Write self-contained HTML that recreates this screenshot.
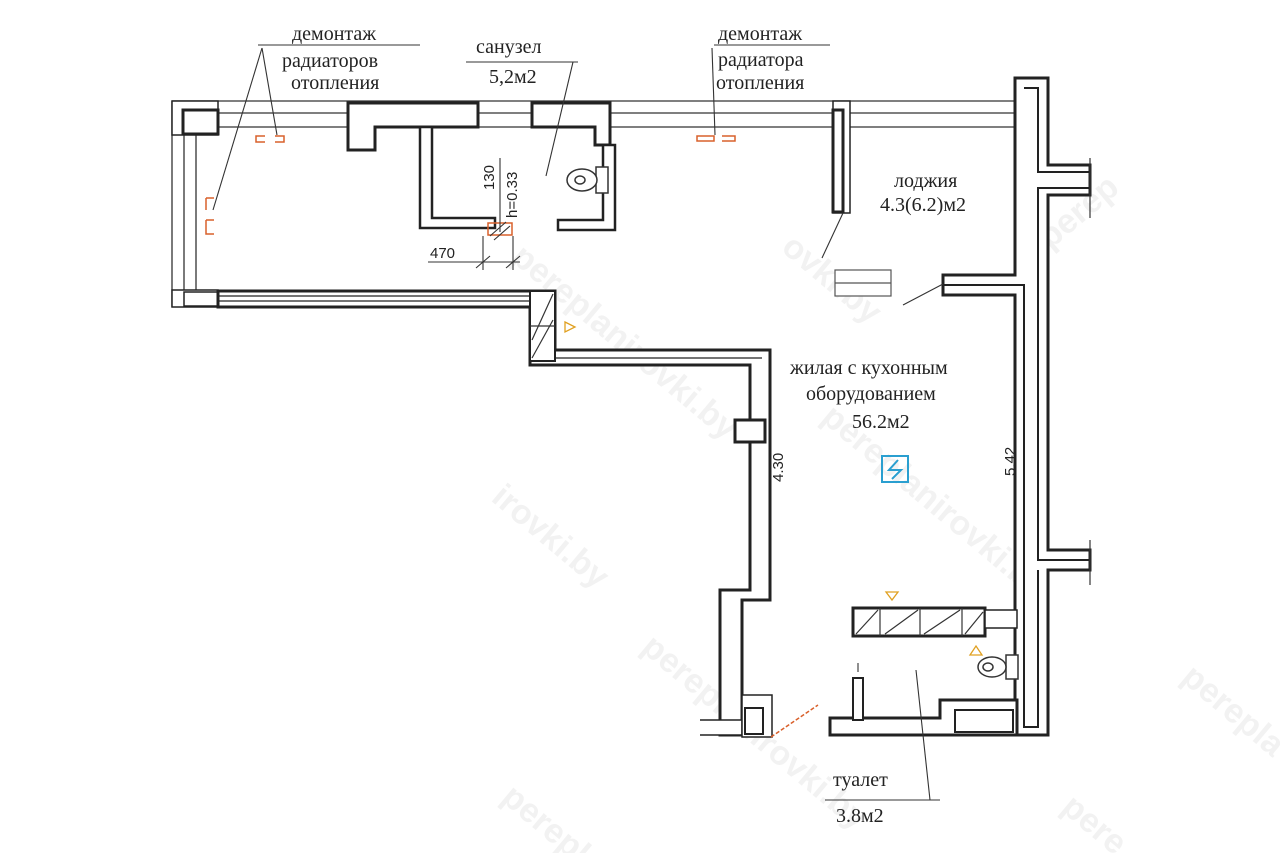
<!DOCTYPE html>
<html><head><meta charset="utf-8"><style>
html,body{margin:0;padding:0;background:#fff;width:1280px;height:853px;overflow:hidden}
svg{display:block;overflow:hidden}
.t{font-family:"Liberation Serif",serif;font-size:20px;fill:#222}
.s{font-family:"Liberation Sans",sans-serif;font-size:15px;fill:#222}
.w{font-family:"Liberation Sans",sans-serif;font-size:34px;font-weight:bold;fill:#f2f2f2}
</style></head><body>
<svg width="1280" height="853" viewBox="0 0 1280 853" xmlns="http://www.w3.org/2000/svg">
<g>
<text class="w" transform="translate(780,250) rotate(40)">ovki.by</text>
<text class="w" transform="translate(820,420) rotate(40)">pereplanirovki.by</text>
<text class="w" transform="translate(1050,250) rotate(-40)">perep</text>
<text class="w" transform="translate(510,260) rotate(40)">pereplanirovki.by</text>
<text class="w" transform="translate(490,500) rotate(40)">irovki.by</text>
<text class="w" transform="translate(640,650) rotate(40)">pereplanirovki.by</text>
<text class="w" transform="translate(500,800) rotate(40)">perepl</text>
<text class="w" transform="translate(1180,680) rotate(40)">perepla</text>
<text class="w" transform="translate(1060,810) rotate(40)">pere</text>
</g>
<g fill="none" stroke="#333" stroke-width="1.3">
<line x1="172" y1="101" x2="1015" y2="101"/>
<line x1="172" y1="113" x2="1015" y2="113"/>
<line x1="172" y1="127" x2="1015" y2="127"/>
<line x1="172" y1="101" x2="172" y2="307"/>
<line x1="184" y1="133" x2="184" y2="292"/>
<line x1="196" y1="133" x2="196" y2="292"/>
</g>
<g fill="#fff" stroke="#222" stroke-width="3">
<rect x="172" y="101" width="46" height="34" stroke-width="1.5"/>
<rect x="183" y="110" width="35" height="24"/>
<rect x="172" y="290" width="46" height="17" stroke-width="1.5"/>
<rect x="184" y="292" width="34" height="14" stroke-width="1.5"/>
<path d="M218 291 H555 V350 H770 V600 H742 V735 H720 V590 H750 V365 H530 V307 H218 Z"/>
<path d="M218 296 H548" stroke-width="1.2"/>
<path d="M218 301 H542 V358 H762" fill="none" stroke-width="1.2"/>
<rect x="530" y="291" width="25" height="70" stroke-width="2"/>
<rect x="735" y="420" width="30" height="22"/>
<path d="M700 720 H742 V735 H700" stroke-width="1.5"/>
<path d="M742 695 H772 V737 H742 Z" stroke-width="1.5"/>
<rect x="745" y="708" width="18" height="26" stroke-width="2"/>
<path d="M348 103 H478 V127 H375 V150 H348 Z"/>
<path d="M532 103 H610 V145 H595 V127 H532 Z"/>
<path d="M420 127 H432 V218 H495 V228 H420 Z" stroke-width="2.5"/>
<path d="M603 145 H615 V230 H558 V220 H603 Z" stroke-width="2.5"/>
<rect x="833" y="101" width="17" height="112" stroke-width="1.5"/>
<rect x="833" y="110" width="10" height="102"/>
<path d="M1015 78 H1048 V165 H1090 V195 H1048 V550 H1090 V570 H1048 V735 H1015 V295 H943 V275 H1015 Z"/>
<path d="M1024 88 H1038 V172 H1090 M1090 188 H1038 V560 H1090 M1038 570 V727 H1024 V285 H943" fill="none" stroke-width="2"/>
<rect x="835" y="270" width="56" height="26" stroke="#555" stroke-width="1.2"/>
<line x1="835" y1="283" x2="891" y2="283" stroke="#555" stroke-width="1.2"/>
<rect x="853" y="608" width="132" height="28"/>
<rect x="985" y="610" width="32" height="18" stroke-width="1.5"/>
<path d="M830 718 H940 V700 H1017 V735 H830 Z"/>
<rect x="955" y="710" width="58" height="22" stroke-width="2"/>
<rect x="853" y="678" width="10" height="42" stroke-width="2"/>
</g>
<g stroke="#333" stroke-width="1.2">
<line x1="1090" y1="158" x2="1090" y2="218"/><line x1="1090" y1="540" x2="1090" y2="585"/>
<line x1="880" y1="608" x2="880" y2="636"/><line x1="920" y1="608" x2="920" y2="636"/><line x1="962" y1="608" x2="962" y2="636"/>
<line x1="856" y1="634" x2="878" y2="610"/><line x1="885" y1="634" x2="918" y2="610"/><line x1="924" y1="634" x2="960" y2="610"/><line x1="965" y1="634" x2="983" y2="612"/>
<line x1="532" y1="340" x2="553" y2="294"/><line x1="532" y1="358" x2="553" y2="320"/><line x1="530" y1="326" x2="555" y2="326"/>
</g>
<g fill="#fff" stroke="#333" stroke-width="1.5">
<rect x="596" y="167" width="12" height="26"/>
<ellipse cx="582" cy="180" rx="15" ry="11"/><ellipse cx="580" cy="180" rx="5" ry="4"/>
<rect x="1006" y="655" width="12" height="24"/>
<ellipse cx="992" cy="667" rx="14" ry="10"/><ellipse cx="988" cy="667" rx="5" ry="4"/>
</g>
<g fill="none" stroke="#d9602b" stroke-width="1.5">
<path d="M265 136 H256 V142 H265 M275 136 H284 V142 H275"/>
<path d="M697 136 H714 V141 H697 Z M722 136 H735 V141 H722"/>
<path d="M206 198 V210 M206 198 H214 M206 220 V234 H214 M206 220 H214"/>
<rect x="488" y="223" width="24" height="12"/>
<line x1="771" y1="737" x2="818" y2="705" stroke-dasharray="4 2"/>
</g>
<g fill="none" stroke="#e0a020" stroke-width="1.3">
<path d="M565 322 L575 327 L565 332 Z"/>
<path d="M886 592 H898 L892 600 Z"/>
<path d="M970 655 H982 L976 646 Z"/>
</g>
<rect x="882" y="456" width="26" height="26" fill="none" stroke="#2a9fd0" stroke-width="2"/>
<path d="M898 460 L889 470 H901 L892 479" fill="none" stroke="#2a9fd0" stroke-width="2"/>
<g stroke="#333" stroke-width="1.1" fill="none">
<line x1="258" y1="45" x2="420" y2="45"/>
<line x1="262" y1="48" x2="213" y2="210"/>
<line x1="262" y1="48" x2="277" y2="135"/>
<line x1="466" y1="62" x2="578" y2="62"/>
<line x1="573" y1="62" x2="546" y2="176"/>
<line x1="714" y1="45" x2="830" y2="45"/>
<line x1="712" y1="48" x2="715" y2="135"/>
<line x1="843" y1="213" x2="822" y2="258"/>
<line x1="943" y1="284" x2="903" y2="305"/>
<line x1="858" y1="663" x2="858" y2="672"/>
<line x1="916" y1="670" x2="930" y2="800"/>
<line x1="825" y1="800" x2="940" y2="800"/>
<line x1="500" y1="158" x2="500" y2="232"/>
<line x1="428" y1="262" x2="520" y2="262"/>
<line x1="483" y1="236" x2="483" y2="270"/><line x1="513" y1="236" x2="513" y2="270"/>
<line x1="476" y1="268" x2="490" y2="256"/><line x1="506" y1="268" x2="520" y2="256"/>
<line x1="490" y1="236" x2="506" y2="222"/><line x1="494" y1="240" x2="510" y2="226"/>
</g>
<text class="t" x="292" y="40">демонтаж</text>
<text class="t" x="282" y="67">радиаторов</text>
<text class="t" x="291" y="89">отопления</text>
<text class="t" x="476" y="53">санузел</text>
<text class="t" x="489" y="83">5,2м2</text>
<text class="t" x="718" y="40">демонтаж</text>
<text class="t" x="718" y="66">радиатора</text>
<text class="t" x="716" y="89">отопления</text>
<text class="t" x="894" y="187">лоджия</text>
<text class="t" x="880" y="211">4.3(6.2)м2</text>
<text class="t" x="790" y="374">жилая с кухонным</text>
<text class="t" x="806" y="400">оборудованием</text>
<text class="t" x="852" y="428">56.2м2</text>
<text class="t" x="833" y="786">туалет</text>
<text class="t" x="836" y="822">3.8м2</text>
<text class="s" x="430" y="258">470</text>
<text class="s" transform="translate(494,190) rotate(-90)">130</text>
<text class="s" transform="translate(517,218) rotate(-90)">h=0.33</text>
<text class="s" transform="translate(783,482) rotate(-90)">4.30</text>
<text class="s" transform="translate(1015,476) rotate(-90)">5.42</text>
</svg>
</body></html>
